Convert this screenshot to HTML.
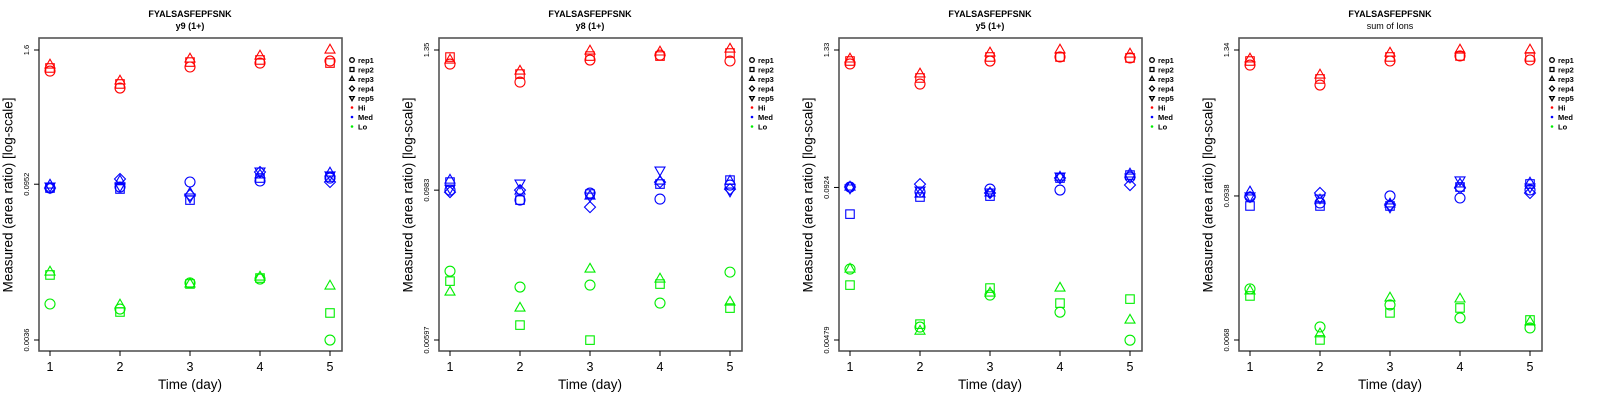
<!DOCTYPE html>
<html><head><meta charset="utf-8"><style>
html,body{margin:0;padding:0;background:#fff;}
svg{display:block;font-family:"Liberation Sans",sans-serif;}
</style></head><body>
<svg id="chart" width="1600" height="400" viewBox="0 0 1600 400" xmlns="http://www.w3.org/2000/svg"></svg>
<script>
// Shared data
const days = [1, 2, 3, 4, 5];
const reps = ["rep1", "rep2", "rep3", "rep4", "rep5"];
const levels = ["Hi", "Med", "Lo"];
const panelSubtitles = ["y9 (1+)", "y8 (1+)", "y5 (1+)", "sum of Ions"];
const panelTitle = "FYALSASFEPFSNK";
// y-axis ticks per panel (top, middle, bottom values and labels)
const tickVals = [[1.6, 0.0952, 0.0036], [1.35, 0.0983, 0.00597], [1.33, 0.0924, 0.00479], [1.34, 0.0938, 0.0068]];
const tickLabels = [["1.6", "0.0952", "0.0036"], ["1.35", "0.0983", "0.00597"], ["1.33", "0.0924", "0.00479"], ["1.34", "0.0938", "0.0068"]];
// values are log10(area ratio); rows = day, cols = rep (Hi/Lo: reps 1-3)
const p1Hi = [[0.012,0.040,0.067],[-0.143,-0.106,-0.079],[0.049,0.094,0.122],[0.085,0.113,0.149],[0.104,0.085,0.204]];
const p1Med = [[-1.056,-1.056,-1.029,-1.056,-1.038],[-1.047,-1.065,-0.992,-0.974,-1.038],[-1.001,-1.166,-1.102,-1.120,-1.138],[-0.992,-0.965,-0.937,-0.910,-0.901],[-0.965,-0.956,-0.919,-1.001,-0.937]];
const p1Lo = [[-2.115,-1.850,-1.823],[-2.161,-2.188,-2.124],[-1.923,-1.932,-1.932],[-1.887,-1.878,-1.869],[-2.444,-2.197,-1.951]];
const p2Hi = [[0.016,0.073,0.049],[-0.130,-0.065,-0.041],[0.049,0.081,0.122],[0.089,0.081,0.114],[0.041,0.106,0.138]];
const p2Med = [[-1.007,-0.942,-0.926,-1.023,-0.991],[-1.088,-1.088,-1.015,-1.007,-0.950],[-1.031,-1.039,-1.056,-1.145,-1.056],[-1.080,-0.958,-0.934,-0.942,-0.844],[-0.966,-0.926,-0.934,-0.999,-1.015]];
const p2Lo = [[-1.665,-1.746,-1.835],[-1.794,-2.103,-1.965],[-1.778,-2.225,-1.648],[-1.924,-1.770,-1.729],[-1.673,-1.965,-1.916]];
const p3Hi = [[0.006,0.031,0.048],[-0.163,-0.112,-0.078],[0.031,0.065,0.099],[0.065,0.065,0.124],[0.057,0.057,0.090]];
const p3Med = [[-1.031,-1.259,-1.031,-1.031,-1.039],[-1.073,-1.115,-1.090,-1.006,-1.056],[-1.048,-1.107,-1.081,-1.081,-1.073],[-1.056,-0.955,-0.947,-0.955,-0.938],[-0.947,-0.930,-0.921,-1.014,-0.947]];
const p3Lo = [[-1.722,-1.857,-1.722],[-2.211,-2.186,-2.245],[-1.941,-1.882,-1.924],[-2.085,-2.009,-1.882],[-2.321,-1.975,-2.152]];
const p4Hi = [[0.008,0.040,0.056],[-0.150,-0.102,-0.071],[0.040,0.072,0.103],[0.080,0.080,0.127],[0.048,0.072,0.127]];
const p4Med = [[-1.036,-1.107,-0.996,-1.036,-1.028],[-1.083,-1.107,-1.060,-1.004,-1.044],[-1.028,-1.107,-1.091,-1.099,-1.115],[-1.044,-0.957,-0.933,-0.965,-0.901],[-0.980,-0.933,-0.925,-1.004,-0.957]];
const p4Lo = [[-1.763,-1.819,-1.779],[-2.064,-2.167,-2.119],[-1.890,-1.953,-1.835],[-1.993,-1.914,-1.843],[-2.072,-2.009,-2.025]];
const panelData = [[p1Hi,p1Med,p1Lo],[p2Hi,p2Med,p2Lo],[p3Hi,p3Med,p3Lo],[p4Hi,p4Med,p4Lo]];
const levelColors = ["#ff0000", "#0000ff", "#00ee00"];

const NS = "http://www.w3.org/2000/svg";
const svg = document.getElementById("chart");
function mk(tag, attrs, parent) {
  const e = document.createElementNS(NS, tag);
  for (const k in attrs) e.setAttribute(k, attrs[k]);
  parent.appendChild(e);
  return e;
}
function marker(parent, shape, cx, cy, col, s, sw) {
  let e;
  if (shape === 0) e = mk("circle", {cx: cx, cy: cy, r: s, fill: "none", stroke: col, "stroke-width": sw}, parent);
  else if (shape === 1) e = mk("rect", {x: cx - s*0.85, y: cy - s*0.85, width: s*1.7, height: s*1.7, fill: "none", stroke: col, "stroke-width": sw}, parent);
  else if (shape === 2) e = mk("polygon", {points: `${cx},${cy-s*1.15} ${cx+s},${cy+s*0.6} ${cx-s},${cy+s*0.6}`, fill: "none", stroke: col, "stroke-width": sw}, parent);
  else if (shape === 3) e = mk("polygon", {points: `${cx},${cy-s*1.1} ${cx+s*1.1},${cy} ${cx},${cy+s*1.1} ${cx-s*1.1},${cy}`, fill: "none", stroke: col, "stroke-width": sw}, parent);
  else e = mk("polygon", {points: `${cx},${cy+s*1.15} ${cx+s},${cy-s*0.6} ${cx-s},${cy-s*0.6}`, fill: "none", stroke: col, "stroke-width": sw}, parent);
  return e;
}

for (let p = 0; p < 4; p++) {
  const ox = p * 400;
  const g = mk("g", {transform: `translate(${ox},0)`}, svg);
  
  
  const left = 39, right = 342, top = 38, bottom = 351;
  const yTop = 50, yBot = 340;
  const lt = Math.log10(tickVals[p][0]), lb = Math.log10(tickVals[p][2]);
  const yScale = v => yTop + (lt - v) / (lt - lb) * (yBot - yTop);
  const xScale = d => 50 + (d - 1) * 70;

  let t = mk("text", {x: 190, y: 17, "text-anchor": "middle", "font-size": 9, "font-weight": "bold"}, g);
  t.textContent = panelTitle;
  
  
  t = mk("text", {x: 190, y: 29, "text-anchor": "middle", "font-size": 9, "font-weight": p < 3 ? "bold" : "normal"}, g);
  t.textContent = panelSubtitles[p];
  
  

  const box = mk("rect", {x: left, y: top, width: right - left, height: bottom - top, fill: "none", stroke: "#555", "stroke-width": 1.6}, g);
  
  

  for (let i = 0; i < 3; i++) {
    const yy = yScale(Math.log10(tickVals[p][i]));
    const tk = mk("line", {x1: left - 5, x2: left, y1: yy, y2: yy, stroke: "#000", "stroke-width": 1}, g);
    
    
    const lbl = mk("text", {x: 0, y: 0, transform: `translate(29,${yy}) rotate(-90)`, "text-anchor": "middle", "font-size": 7.5}, g);
    lbl.textContent = tickLabels[p][i];
    
    
  }
  for (const d of days) {
    const xx = xScale(d);
    const tk = mk("line", {x1: xx, x2: xx, y1: bottom, y2: bottom + 5, stroke: "#000", "stroke-width": 1}, g);
    
    
    const lbl = mk("text", {x: xx, y: 371, "text-anchor": "middle", "font-size": 12.5}, g);
    lbl.textContent = d;
    
    
  }
  t = mk("text", {x: 190, y: 389, "text-anchor": "middle", "font-size": 13.5}, g);
  t.textContent = "Time (day)";
  
  
  t = mk("text", {x: 0, y: 0, transform: "translate(8,195) rotate(-90)", "text-anchor": "middle", "font-size": 13.5, "dominant-baseline": "central"}, g);
  t.textContent = "Measured (area ratio) [log-scale]";
  
  

  for (let L = 0; L < 3; L++) {
    const arr = panelData[p][L];
    for (let di = 0; di < arr.length; di++) {
      for (let r = 0; r < arr[di].length; r++) {
        const v = arr[di][r];
        if (v === null) continue;
        const m = marker(g, r, xScale(days[di]), yScale(v), levelColors[L], 5, 1.1);
        
        
      }
    }
  }

  const lg = mk("g", {}, g);
  
  
  const ly0 = 60, ldy = 9.5;
  for (let r = 0; r < 5; r++) {
    const m = marker(lg, r, 352, ly0 + r * ldy, "#000", 2.3, 1.3);
    
    
    const tx = mk("text", {x: 358, y: ly0 + r * ldy + 2.8, "font-size": 7.5, "font-weight": "bold"}, lg);
    tx.textContent = reps[r];
    
    
  }
  for (let L = 0; L < 3; L++) {
    const yy = ly0 + (5 + L) * ldy;
    const c = mk("circle", {cx: 352, cy: yy, r: 1.3, fill: levelColors[L]}, lg);
    
    
    const tx = mk("text", {x: 358, y: yy + 2.8, "font-size": 7.5, "font-weight": "bold"}, lg);
    tx.textContent = levels[L];
    
    
  }
}
</script>
</body></html>
